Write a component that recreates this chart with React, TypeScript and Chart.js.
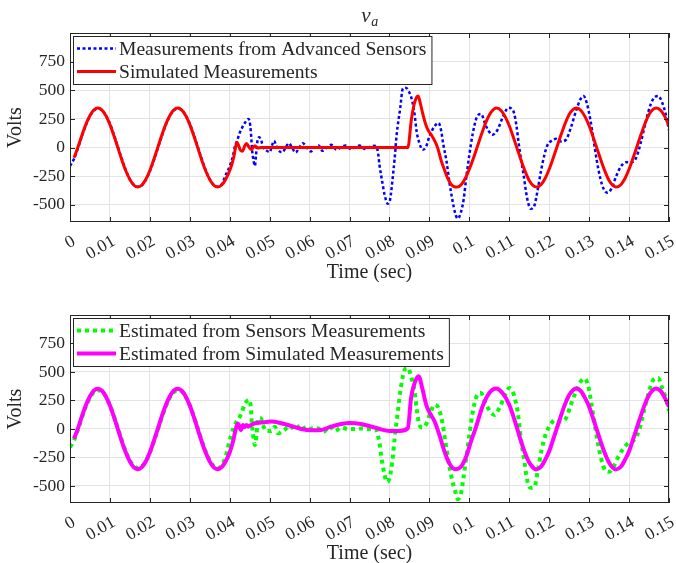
import React, { useEffect, useRef } from 'react';
import { Chart, registerables } from 'chart.js';

Chart.register(...registerables);

const FONT = '"Liberation Serif", "Times New Roman", serif';
const INK = '#262626';
const GRID = '#e3e3e3';

const xTickValues = [0, 0.01, 0.02, 0.03, 0.04, 0.05, 0.06, 0.07, 0.08, 0.09, 0.1, 0.11, 0.12, 0.13, 0.14, 0.15];
const xTickLabels = ['0', '0.01', '0.02', '0.03', '0.04', '0.05', '0.06', '0.07', '0.08', '0.09', '0.1', '0.11', '0.12', '0.13', '0.14', '0.15'];
const yTickValues = [-500, -250, 0, 250, 500, 750];
const yTickLabels = ['-500', '-250', '0', '250', '500', '750'];
const xMin = 0;
const xMax = 0.15;
const yMin = -650;
const yMax = 1000;

const plotTitle = 'v';
const plotTitleSub = 'a';
const xAxisTitle = 'Time (sec)';
const yAxisTitle = 'Volts';

const topLegend = ['Measurements from Advanced Sensors', 'Simulated Measurements'];
const bottomLegend = ['Estimated from Sensors Measurements', 'Estimated from Simulated Measurements'];

// Top: measurements from advanced sensors (blue dotted)
const sensT = [
  0.000, 0.001, 0.002, 0.003, 0.004, 0.005, 0.006, 0.007, 0.008, 0.009,
  0.010, 0.011, 0.012, 0.013, 0.014, 0.015, 0.016, 0.017, 0.018, 0.019,
  0.020, 0.021, 0.022, 0.023, 0.024, 0.025, 0.026, 0.027, 0.028, 0.029,
  0.030, 0.031, 0.032, 0.033, 0.034, 0.035, 0.036, 0.037, 0.038, 0.039,
  0.0400, 0.0408, 0.0413, 0.0418, 0.0425, 0.0432, 0.0438, 0.0446, 0.0450, 0.0453,
  0.0456, 0.0460, 0.0463, 0.0466, 0.0470, 0.0474, 0.0479, 0.0484, 0.0490, 0.0500,
  0.0506, 0.0511, 0.0516, 0.0521, 0.0532, 0.0540, 0.0548, 0.0556, 0.0565, 0.0574,
  0.0583, 0.0593, 0.0603, 0.0613, 0.0623, 0.0632, 0.0643, 0.0654, 0.0667, 0.0678,
  0.0690, 0.0703, 0.0714, 0.0725, 0.0738, 0.0753, 0.0763, 0.0771, 0.0775, 0.0782,
  0.0788, 0.0796, 0.0802, 0.0807, 0.0813, 0.0818, 0.0827, 0.0833, 0.0840, 0.0848,
  0.0857, 0.0863, 0.0868, 0.0875, 0.0883, 0.0892, 0.0900, 0.0913, 0.0923, 0.0929,
  0.0935, 0.0943, 0.0950, 0.0957, 0.0965, 0.0971, 0.0979, 0.0986, 0.0992, 0.1000,
  0.1008, 0.1018, 0.1029, 0.1042, 0.1058, 0.1071, 0.1083, 0.1098, 0.1108, 0.1113,
  0.1118, 0.1123, 0.1129, 0.1136, 0.1142, 0.1148, 0.1154, 0.1163, 0.1171, 0.1179,
  0.1188, 0.1196, 0.1206, 0.1217, 0.1229, 0.1242, 0.1254, 0.1267, 0.1278, 0.1286,
  0.1294, 0.1303, 0.1311, 0.1319, 0.1328, 0.1338, 0.1346, 0.1356, 0.1367, 0.1379,
  0.1392, 0.1404, 0.1417, 0.1429, 0.1442, 0.1454, 0.1463, 0.1473, 0.1483, 0.1492,
  0.1500,
];
const sensV = [
  -160, -100, -5, 100, 198, 275, 322, 340, 328, 281,
  207, 112, 5, -102, -200, -277, -326, -343, -330, -282,
  -207, -112, -5, 100, 198, 275, 322, 340, 328, 281,
  207, 112, 5, -102, -200, -277, -326, -343, -320, -240,
  -163, -76, 10, 55, 128, 180, 216, 250, 225, 130,
  -20, -120, -160, -60, 70, 90, 60, 0, -20, -40,
  20, 59, 20, -20, -41, 0, 38, 0, -44, 0,
  38, 0, -35, 0, 18, -29, 0, 24, -18, 0,
  18, -12, 0, 18, -12, 9, 15, -35, -153, -300,
  -417, -491, -447, -300, -94, 112, 347, 509, 523, 494,
  406, 288, 141, 38, -20, 9, 97, 185, 215, 156,
  24, -123, -300, -447, -579, -620, -564, -447, -270, -65,
  112, 259, 294, 185, 112, 156, 259, 347, 332, 288,
  190, 53, -94, -241, -388, -491, -535, -506, -373, -212,
  -65, 24, 59, 76, 53, 68, 171, 318, 420, 450,
  391, 244, 68, -109, -270, -373, -394, -359, -256, -168,
  -129, -129, -94, 38, 229, 376, 435, 450, 391, 288,
  150,
];

// Top: simulated measurements (red solid)
const simT = [
  0.001, 0.002, 0.003, 0.004, 0.005, 0.006, 0.007, 0.008, 0.009,
  0.010, 0.011, 0.012, 0.013, 0.014, 0.015, 0.016, 0.017, 0.018, 0.019,
  0.020, 0.021, 0.022, 0.023, 0.024, 0.025, 0.026, 0.027, 0.028, 0.029,
  0.030, 0.031, 0.032, 0.033, 0.034, 0.035, 0.036, 0.037, 0.038, 0.039,
  0.0400, 0.0405, 0.0410, 0.0414, 0.0418, 0.0422, 0.0427, 0.0432, 0.0437, 0.0442,
  0.0448, 0.0454, 0.0463, 0.0470, 0.0480, 0.0846, 0.0855, 0.0862, 0.0868, 0.0872,
  0.0877, 0.0883, 0.0890, 0.0897, 0.0905, 0.0913, 0.0921, 0.0929, 0.0938, 0.0946,
  0.0954, 0.0962, 0.0970, 0.0980, 0.0990, 0.1000, 0.1010, 0.1020, 0.1030, 0.1040,
  0.1050, 0.1060, 0.1068, 0.1080, 0.1090, 0.1100, 0.1110, 0.1120, 0.1130, 0.1140,
  0.1150, 0.1160, 0.1168, 0.1180, 0.1190, 0.1200, 0.1210, 0.1220, 0.1230, 0.1240,
  0.1250, 0.1260, 0.1268, 0.1280, 0.1290, 0.1300, 0.1310, 0.1320, 0.1330, 0.1340,
  0.1350, 0.1360, 0.1368, 0.1380, 0.1390, 0.1400, 0.1410, 0.1420, 0.1430, 0.1440,
  0.1450, 0.1460, 0.1468, 0.1480, 0.1490, 0.1500,
];
const simV = [
  -90, 5, 110, 205, 280, 329, 345, 327, 277,
  200, 103, -3, -110, -205, -280, -329, -345, -327, -277,
  -200, -103, 3, 110, 205, 280, 329, 345, 327, 277,
  200, 103, -3, -110, -205, -280, -329, -345, -327, -277,
  -200, -150, -85, -10, 46, 20, -25, -32, 10, 35,
  5, -17, 15, -5, 0, 0, 250, 380, 440, 450,
  390, 300, 210, 150, 110, 60, -6, -109, -197, -270,
  -320, -342, -345, -322, -268, -188, -95, 8, 112, 208,
  285, 332, 345, 322, 268, 190, 92, -12, -115, -210,
  -288, -333, -345, -322, -268, -190, -92, 12, 115, 210,
  288, 333, 345, 322, 268, 190, 92, -12, -115, -210,
  -288, -333, -345, -322, -268, -190, -92, 12, 115, 210,
  288, 333, 345, 322, 268, 190,
];

// Bottom: estimated from sensors measurements (green dotted)
const estSensT = [
  0.000, 0.001, 0.002, 0.003, 0.004, 0.005, 0.006, 0.007, 0.008, 0.009,
  0.010, 0.011, 0.012, 0.013, 0.014, 0.015, 0.016, 0.017, 0.018, 0.019,
  0.020, 0.021, 0.022, 0.023, 0.024, 0.025, 0.026, 0.027, 0.028, 0.029,
  0.030, 0.031, 0.032, 0.033, 0.034, 0.035, 0.036, 0.037, 0.038, 0.039,
  0.0396, 0.0403, 0.0410, 0.0415, 0.0421, 0.0429, 0.0439, 0.0448, 0.0453, 0.0455,
  0.0458, 0.0463, 0.0467, 0.0471, 0.0478, 0.0483, 0.0492, 0.0504, 0.0513, 0.0521,
  0.0538, 0.0550, 0.0563, 0.0579, 0.0592, 0.0608, 0.0620, 0.0636, 0.0650, 0.0664,
  0.0679, 0.0696, 0.0713, 0.0730, 0.0746, 0.0765, 0.0771, 0.0775, 0.0779, 0.0788,
  0.0793, 0.0800, 0.0807, 0.0813, 0.0821, 0.0829, 0.0838, 0.0846, 0.0854, 0.0863,
  0.0868, 0.0875, 0.0883, 0.0893, 0.0902, 0.0913, 0.0923, 0.0932, 0.0940, 0.0948,
  0.0957, 0.0965, 0.0971, 0.0979, 0.0985, 0.0992, 0.1000, 0.1008, 0.1018, 0.1029,
  0.1042, 0.1063, 0.1075, 0.1088, 0.1100, 0.1110, 0.1116, 0.1121, 0.1129, 0.1138,
  0.1144, 0.1153, 0.1163, 0.1171, 0.1181, 0.1192, 0.1203, 0.1214, 0.1229, 0.1242,
  0.1254, 0.1267, 0.1279, 0.1289, 0.1298, 0.1306, 0.1317, 0.1328, 0.1340, 0.1350,
  0.1361, 0.1373, 0.1386, 0.1400, 0.1413, 0.1425, 0.1438, 0.1450, 0.1461, 0.1473,
  0.1483, 0.1492, 0.1500,
];
const estSensV = [
  -160, -100, -5, 100, 198, 275, 322, 340, 328, 281,
  207, 112, 5, -102, -200, -277, -326, -343, -330, -282,
  -207, -112, -5, 100, 198, 275, 322, 340, 328, 281,
  207, 112, 5, -102, -200, -277, -326, -343, -320, -240,
  -156, -60, 15, 50, 79, 138, 226, 256, 182, 65,
  -38, -141, -53, 94, 94, 35, -18, -18, 20, -38,
  -6, 29, -6, 35, -12, 6, 5, -24, 21, -18,
  12, 0, 0, 4, 0, 0, -60, -120, -229, -406,
  -465, -435, -288, -82, 153, 373, 520, 535, 462, 329,
  182, 35, 12, 50, 138, 212, 182, 65, -112, -288,
  -450, -553, -617, -567, -435, -259, -53, 138, 285, 315,
  212, 123, 182, 285, 359, 315, 240, 153, -82, -288,
  -435, -517, -509, -376, -185, -38, 35, 79, 65, 94,
  212, 329, 417, 441, 373, 212, -24, -229, -362, -376,
  -332, -244, -171, -118, -97, -9, 168, 329, 432, 447,
  359, 270, 160,
];

// Bottom: estimated from simulated measurements (magenta solid)
const estSimT = [
  0.001, 0.002, 0.003, 0.004, 0.005, 0.006, 0.007, 0.008, 0.009,
  0.010, 0.011, 0.012, 0.013, 0.014, 0.015, 0.016, 0.017, 0.018, 0.019,
  0.020, 0.021, 0.022, 0.023, 0.024, 0.025, 0.026, 0.027, 0.028, 0.029,
  0.030, 0.031, 0.032, 0.033, 0.034, 0.035, 0.036, 0.037, 0.038, 0.039,
  0.0400, 0.0405, 0.0410, 0.0415, 0.0420, 0.0424, 0.0428, 0.0433, 0.0437, 0.0442,
  0.0446, 0.0450, 0.0463, 0.0479, 0.0504, 0.0529, 0.0554, 0.0579, 0.0604, 0.0629,
  0.0654, 0.0679, 0.0700, 0.0729, 0.0754, 0.0775, 0.0800, 0.0825, 0.0846, 0.0854,
  0.0863, 0.0873, 0.0882, 0.0892, 0.0900, 0.0913, 0.0925, 0.0938, 0.0950, 0.0965,
  0.0979, 0.0992, 0.1004, 0.1017, 0.1033, 0.1050, 0.1067, 0.1083, 0.1100, 0.1117,
  0.1130, 0.1140, 0.1150, 0.1160, 0.1167, 0.1180, 0.1190, 0.1200, 0.1210, 0.1220,
  0.1230, 0.1240, 0.1250, 0.1260, 0.1267, 0.1280, 0.1290, 0.1300, 0.1310, 0.1320,
  0.1330, 0.1340, 0.1350, 0.1360, 0.1367, 0.1380, 0.1390, 0.1400, 0.1410, 0.1420,
  0.1430, 0.1440, 0.1450, 0.1460, 0.1467, 0.1480, 0.1490, 0.1500,
];
const estSimV = [
  -85, 5, 113, 210, 287, 337, 353, 335, 284,
  205, 105, -3, -113, -210, -287, -337, -353, -335, -284,
  -205, -105, 3, 113, 210, 287, 337, 353, 335, 284,
  205, 105, -3, -113, -210, -287, -337, -353, -335, -284,
  -205, -150, -85, 0, 48, 25, -9, 35, 15, 35,
  20, 29, 50, 56, 65, 50, 26, 0, -12, -9,
  21, 44, 53, 44, 21, 0, -18, -18, 6, 270,
  403, 462, 359, 212, 147, 65, -53, -200, -303, -353,
  -332, -244, -112, 21, 197, 315, 355, 315, 212, 35,
  -115, -215, -295, -340, -355, -330, -270, -195, -92, 15,
  122, 220, 297, 342, 355, 330, 270, 195, 92, -15,
  -122, -220, -297, -342, -355, -330, -270, -195, -92, 15,
  122, 220, 297, 342, 355, 330, 270, 195,
];

type LegendItem = { label: string; color: string; width: number; dash: number[] };

const pts = (t: number[], v: number[]) => t.map((x, i) => ({ x, y: v[i] }));

function frameAndTextPlugin(legend: LegendItem[], showTitle: boolean) {
  return {
    id: 'frameAndText',
    afterDraw(chart: any) {
      const ctx = chart.ctx as CanvasRenderingContext2D;
      const { left, right, top, bottom } = chart.chartArea;
      const xs = chart.scales.x;
      const ys = chart.scales.y;
      ctx.save();
      ctx.strokeStyle = INK;
      ctx.lineWidth = 1;
      ctx.setLineDash([]);
      ctx.strokeRect(left + 0.5, top + 0.5, right - left - 1, bottom - top - 1);
      ctx.beginPath();
      const tl = 5;
      xTickValues.forEach((v) => {
        const px = Math.round(xs.getPixelForValue(v)) + 0.5;
        ctx.moveTo(px, bottom);
        ctx.lineTo(px, bottom - tl);
        ctx.moveTo(px, top);
        ctx.lineTo(px, top + tl);
      });
      yTickValues.forEach((v) => {
        const py = Math.round(ys.getPixelForValue(v)) + 0.5;
        ctx.moveTo(left, py);
        ctx.lineTo(left + tl, py);
        ctx.moveTo(right, py);
        ctx.lineTo(right - tl, py);
      });
      ctx.stroke();

      ctx.fillStyle = INK;
      ctx.font = `20px ${FONT}`;
      ctx.textAlign = 'center';
      ctx.textBaseline = 'middle';
      ctx.fillText(xAxisTitle, (left + right) / 2, bottom + 51);
      ctx.save();
      ctx.translate(16, (top + bottom) / 2);
      ctx.rotate(-Math.PI / 2);
      ctx.fillText(yAxisTitle, 0, 0);
      ctx.restore();

      if (showTitle) {
        ctx.textAlign = 'left';
        ctx.textBaseline = 'alphabetic';
        ctx.font = `italic 21px ${FONT}`;
        const w1 = ctx.measureText(plotTitle).width;
        ctx.font = `italic 14px ${FONT}`;
        const w2 = ctx.measureText(plotTitleSub).width;
        const x0 = (left + right) / 2 - (w1 + w2) / 2;
        ctx.font = `italic 21px ${FONT}`;
        ctx.fillText(plotTitle, x0, 22);
        ctx.font = `italic 14px ${FONT}`;
        ctx.fillText(plotTitleSub, x0 + w1 + 0.5, 26);
      }

      ctx.font = `19.6px ${FONT}`;
      let maxW = 0;
      legend.forEach((it) => {
        maxW = Math.max(maxW, ctx.measureText(it.label).width);
      });
      const bx = left + 3;
      const by = top + 3;
      const bw = 47 + maxW + 4;
      const bh = 48;
      ctx.fillStyle = '#ffffff';
      ctx.fillRect(bx, by, bw, bh);
      ctx.strokeStyle = INK;
      ctx.lineWidth = 1;
      ctx.strokeRect(bx + 0.5, by + 0.5, bw, bh);
      legend.forEach((it, i) => {
        const ry = by + 12.5 + i * 23;
        ctx.beginPath();
        ctx.strokeStyle = it.color;
        ctx.lineWidth = it.width;
        ctx.setLineDash(it.dash);
        ctx.moveTo(bx + 4, ry);
        ctx.lineTo(bx + 43, ry);
        ctx.stroke();
        ctx.setLineDash([]);
        ctx.fillStyle = INK;
        ctx.textAlign = 'left';
        ctx.textBaseline = 'middle';
        ctx.fillText(it.label, bx + 46, ry + 1);
      });
      ctx.restore();
    },
  };
}

function makeConfig(datasets: any[], legend: LegendItem[], showTitle: boolean): any {
  return {
    type: 'line',
    data: { datasets },
    options: {
      responsive: false,
      animation: false,
      devicePixelRatio: 1,
      parsing: false,
      normalized: true,
      events: [],
      layout: { padding: { left: 0, right: 7, top: 33, bottom: 0 } },
      elements: {
        point: { radius: 0 },
        line: { cubicInterpolationMode: 'monotone', capBezierPoints: true },
      },
      plugins: {
        legend: { display: false },
        tooltip: { enabled: false },
        title: { display: false },
      },
      scales: {
        x: {
          type: 'linear',
          min: xMin,
          max: xMax,
          afterBuildTicks: (s: any) => {
            s.ticks = xTickValues.map((v) => ({ value: v }));
          },
          afterFit: (s: any) => {
            s.height = 60;
            s.paddingLeft = 0;
            s.paddingRight = 0;
            s.paddingTop = 0;
            s.paddingBottom = 0;
          },
          grid: { color: GRID, drawTicks: false, lineWidth: 1 },
          border: { display: false },
          ticks: {
            autoSkip: false,
            minRotation: 30,
            maxRotation: 30,
            padding: 9,
            labelOffset: 4,
            color: INK,
            font: { family: FONT, size: 17.5 },
            callback: (_v: any, i: number) => xTickLabels[i],
          },
        },
        y: {
          type: 'linear',
          min: yMin,
          max: yMax,
          afterBuildTicks: (s: any) => {
            s.ticks = yTickValues.map((v) => ({ value: v }));
          },
          afterFit: (s: any) => {
            s.width = 70;
            s.paddingLeft = 0;
            s.paddingRight = 0;
            s.paddingTop = 0;
            s.paddingBottom = 0;
          },
          grid: { color: GRID, drawTicks: false, lineWidth: 1 },
          border: { display: false },
          ticks: {
            padding: 5,
            color: INK,
            font: { family: FONT, size: 17.5 },
            callback: (_v: any, i: number) => yTickLabels[i],
          },
        },
      },
    },
    plugins: [frameAndTextPlugin(legend, showTitle)],
  };
}

export default function App() {
  const topRef = useRef<HTMLCanvasElement | null>(null);
  const botRef = useRef<HTMLCanvasElement | null>(null);

  useEffect(() => {
    const topLegendItems: LegendItem[] = [
      { label: topLegend[0], color: '#0000ff', width: 2.5, dash: [3, 2.5] },
      { label: topLegend[1], color: '#ff0000', width: 3, dash: [] },
    ];
    const botLegendItems: LegendItem[] = [
      { label: bottomLegend[0], color: '#00ff00', width: 4, dash: [4, 4] },
      { label: bottomLegend[1], color: '#ff00ff', width: 4, dash: [] },
    ];
    const topChart = new Chart(
      topRef.current as HTMLCanvasElement,
      makeConfig(
        [
          { label: topLegend[0], data: pts(sensT, sensV), borderColor: '#0000ff', borderWidth: 2.5, borderDash: [3, 2.5], order: 2, fill: false },
          { label: topLegend[1], data: pts(simT, simV), borderColor: '#ff0000', borderWidth: 3, order: 1, fill: false },
        ],
        topLegendItems,
        true
      )
    );
    const botChart = new Chart(
      botRef.current as HTMLCanvasElement,
      makeConfig(
        [
          { label: bottomLegend[0], data: pts(estSensT, estSensV), borderColor: '#00ff00', borderWidth: 4, borderDash: [4, 4], order: 2, fill: false },
          { label: bottomLegend[1], data: pts(estSimT, estSimV), borderColor: '#ff00ff', borderWidth: 4, order: 1, fill: false },
        ],
        botLegendItems,
        false
      )
    );
    return () => {
      topChart.destroy();
      botChart.destroy();
    };
  }, []);

  return (
    <div style={{ position: 'absolute', left: 0, top: 0, width: 676, height: 563, background: '#ffffff' }}>
      <canvas ref={topRef} width={676} height={282} style={{ position: 'absolute', left: 0, top: 0, display: 'block' }} />
      <canvas ref={botRef} width={676} height={281} style={{ position: 'absolute', left: 0, top: 282, display: 'block' }} />
    </div>
  );
}
